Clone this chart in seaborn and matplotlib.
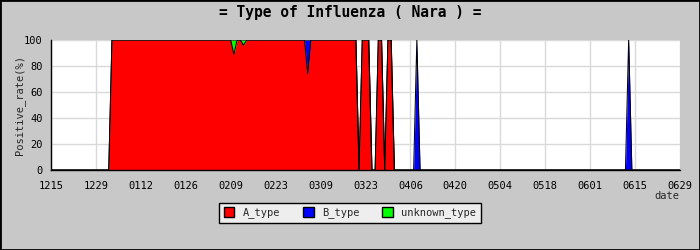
import matplotlib
matplotlib.use('Agg')
import matplotlib.pyplot as plt
from matplotlib.patches import Patch, Rectangle
from matplotlib.ticker import MultipleLocator
import seaborn as sns
import pandas as pd

# ---- data (breakpoints of the daily positive-rate series, MMDD) ----
dates = ['1215', '0102', '0103', '0209', '0210', '0211', '0212', '0213', '0214',
         '0304', '0305', '0306', '0320', '0321', '0322', '0324', '0325', '0326',
         '0327', '0328', '0329', '0330', '0331', '0401', '0407', '0408', '0409',
         '0612', '0613', '0614', '0629']
a_type = [0, 0, 100, 100, 89, 100, 100, 96, 100,
          100, 74, 100, 100, 0, 100, 100, 0, 0,
          100, 100, 0, 100, 100, 0, 0, 0, 0,
          0, 0, 0, 0]
b_type = [0, 0, 0, 0, 0, 0, 0, 0, 0,
          0, 26, 0, 0, 0, 0, 0, 0, 0,
          0, 0, 0, 0, 0, 0, 0, 100, 0,
          0, 100, 0, 0]
unknown_type = [0, 0, 0, 0, 11, 0, 0, 4, 0,
                0, 0, 0, 0, 0, 0, 0, 0, 0,
                0, 0, 0, 0, 0, 0, 0, 0, 0,
                0, 0, 0, 0]
tick_labels = ['1215', '1229', '0112', '0126', '0209', '0223', '0309', '0323',
               '0406', '0420', '0504', '0518', '0601', '0615', '0629']
series_names = ['A_type', 'B_type', 'unknown_type']
colors = ['#ff0000', '#0000ff', '#00ff00']
title = '= Type of Influenza ( Nara ) ='


def to_ts(s):
    m, d = int(s[:2]), int(s[2:])
    return pd.Timestamp(2018 if m >= 7 else 2019, m, d)


x = [to_ts(s) for s in dates]
ticks = [to_ts(s) for s in tick_labels]
df = pd.DataFrame({'date': x, 'A_type': a_type, 'B_type': b_type,
                   'unknown_type': unknown_type})
df['a_top'] = df['A_type']
df['total'] = df['A_type'] + df['B_type'] + df['unknown_type']

sns.set_style('white')
plt.rcParams['font.family'] = ['DejaVu Sans Mono', 'DejaVu Sans']

fig = plt.figure(figsize=(7, 2.5), dpi=100, facecolor='#c8c8c8')
ax = fig.add_axes([51 / 700, 80 / 250, 629 / 700, 130 / 250])
ax.set_facecolor('white')

ax.stackplot(df['date'], df['A_type'], df['B_type'], df['unknown_type'],
             colors=colors, linewidth=0, zorder=2)
sns.lineplot(data=df, x='date', y='a_top', color='black', linewidth=0.75,
             ax=ax, zorder=3, legend=False)
sns.lineplot(data=df, x='date', y='total', color='black', linewidth=0.75,
             ax=ax, zorder=3, legend=False)

ax.set_xlim(ticks[0], ticks[-1])
ax.set_ylim(0, 100)
ax.set_xticks(ticks)
ax.set_xticklabels(tick_labels)
ax.yaxis.set_major_locator(MultipleLocator(20))
ax.yaxis.set_minor_locator(MultipleLocator(10))
ax.set_xlabel('')
ax.set_ylabel('')

ax.set_axisbelow(True)
ax.grid(True, which='major', color='#d9d9d9', linewidth=1.0)
for s in ['top', 'right']:
    ax.spines[s].set_visible(False)
for s in ['left', 'bottom']:
    ax.spines[s].set_color('black')
    ax.spines[s].set_linewidth(1.0)
    ax.spines[s].set_zorder(4)

ax.tick_params(axis='both', which='both', direction='in', color='black',
               width=1.0, labelsize=7.5, labelcolor='black',
               top=False, right=False)
ax.tick_params(axis='x', which='major', length=4.5, pad=8)
ax.tick_params(axis='y', which='major', length=3.5, pad=6)
ax.tick_params(axis='y', which='minor', length=3.5)

fig.text(350 / 700, 1 - 13 / 250, title, ha='center', va='center',
         fontsize=10.5, fontweight='bold', color='black')
fig.text(20 / 700, 1 - 105.5 / 250, 'Positive_rate(%)', rotation=90,
         ha='center', va='center', fontsize=7.5)
fig.text(667 / 700, 1 - 196 / 250, 'date', ha='center', va='center',
         fontsize=7.5)

handles = [Patch(facecolor=c, edgecolor='black', label=n)
           for c, n in zip(colors, series_names)]
leg = fig.legend(handles=handles, loc='center', bbox_to_anchor=(0.5, 1 - 212.8 / 250),
                 ncol=3, frameon=True, fancybox=False, shadow=False,
                 facecolor='#eeeeee', edgecolor='black', framealpha=1,
                 fontsize=7.5, handlelength=1.0, handleheight=1.0,
                 columnspacing=2.2, handletextpad=0.8, borderpad=0.45)
leg.get_frame().set_linewidth(1.0)

fig.patches.append(Rectangle((0, 0), 1, 1, transform=fig.transFigure,
                             fill=False, edgecolor='black', linewidth=2))

fig.savefig('out.png', dpi=100, facecolor=fig.get_facecolor())
